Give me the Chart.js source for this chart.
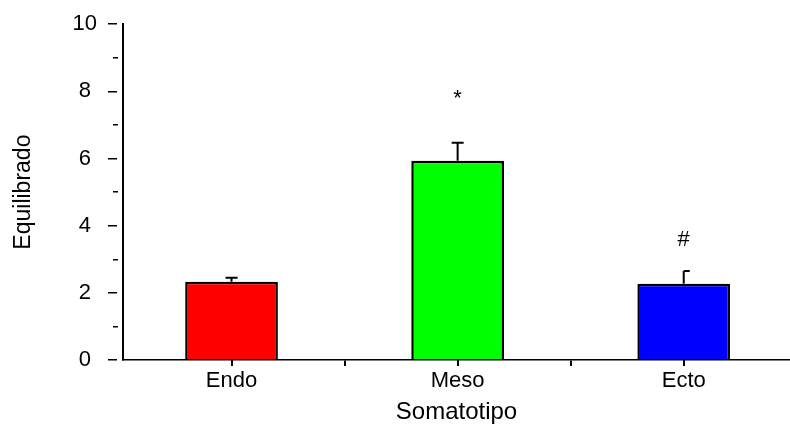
<!DOCTYPE html>
<html>
<head>
<meta charset="utf-8">
<script src="https://cdn.jsdelivr.net/npm/chart.js@4"></script>
<style>
  body { margin: 0; background: #fff; }
  #wrap { width: 790px; height: 429px; position: relative; }
</style>
</head>
<body>
<div id="wrap"><canvas id="myChart"></canvas></div>
<script>
const categories = ['Endo', 'Meso', 'Ecto'];
const means = [2.33, 5.93, 2.27];
const errors = [0.12, 0.54, 0.38];
const marks = ['', '*', '#'];
const markValues = [null, 7.6, 3.4];
const barColors = ['#ff0000', '#00ff00', '#0000ff'];
const capSides = ['both', 'both', 'right'];
const yLabels = [0, 2, 4, 6, 8, 10];

Chart.defaults.font.family = "'Liberation Sans', Arial, sans-serif";
Chart.defaults.font.size = 22;
Chart.defaults.color = '#000';

// error bars, significance marks and the category tick marks under the bars
const extrasPlugin = {
  id: 'extras',
  afterDraw(chart) {
    const { ctx, scales: { x, y } } = chart;
    const bars = chart.getDatasetMeta(0).data;
    ctx.save();
    ctx.strokeStyle = '#000';
    ctx.lineWidth = 2;
    bars.forEach((bar, i) => {
      const top = y.getPixelForValue(means[i] + errors[i]);
      const base = y.getPixelForValue(means[i]);
      const half = 6;
      ctx.beginPath();
      ctx.moveTo(bar.x, base);
      ctx.lineTo(bar.x, top);
      const left = capSides[i] === 'right' ? bar.x : bar.x - half;
      ctx.moveTo(left, top);
      ctx.lineTo(bar.x + half, top);
      // tick mark below the axis at the category centre
      const cx = Math.round(x.getPixelForValue(i));
      ctx.moveTo(cx, x.top);
      ctx.lineTo(cx, x.top + 6);
      ctx.stroke();
    });

    ctx.fillStyle = '#000';
    ctx.font = "22px 'Liberation Sans', Arial, sans-serif";
    ctx.textAlign = 'center';
    ctx.textBaseline = 'alphabetic';
    bars.forEach((bar, i) => {
      if (!marks[i]) return;
      ctx.fillText(marks[i], bar.x, y.getPixelForValue(markValues[i]));
    });
    ctx.restore();
  }
};

new Chart('myChart', {
  type: 'bar',
  data: {
    datasets: [{
      data: categories.map((c, i) => ({ x: i, y: means[i] })),
      backgroundColor: barColors,
      borderColor: '#000',
      borderWidth: 2.5,
      barPercentage: 0.82,
      categoryPercentage: 1
    }]
  },
  plugins: [extrasPlugin],
  options: {
    responsive: true,
    maintainAspectRatio: false,
    animation: false,
    layout: { padding: { top: 20, right: 0, left: 0, bottom: 0 } },
    plugins: {
      legend: { display: false },
      tooltip: { enabled: false }
    },
    scales: {
      x: {
        type: 'linear',
        offset: false,
        min: -0.48,
        max: 2.47,
        afterBuildTicks: s => { s.ticks = [0, 0.5, 1, 1.5, 2].map(v => ({ value: v })); },
        afterFit: s => { s.height = 69; },
        grid: { offset: false, drawOnChartArea: false, tickLength: 6, color: '#000', lineWidth: 2 },
        border: { color: '#000', width: 1.5 },
        ticks: {
          padding: 2,
          maxRotation: 0,
          autoSkip: false,
          callback: v => Number.isInteger(v) ? categories[v] : ''
        },
        title: { display: true, text: 'Somatotipo', font: { size: 24 }, padding: { top: 0, bottom: 2 } }
      },
      y: {
        min: 0,
        max: 10,
        afterFit: s => { s.width = 123; },
        ticks: {
          stepSize: 1,
          padding: 11,
          crossAlign: 'center',
          callback: v => yLabels.includes(v) ? v : ''
        },
        grid: {
          drawOnChartArea: false,
          tickLength: 15,
          color: '#000',
          lineWidth: 1.5,
          tickBorderDash: ctx => (ctx.tick && ctx.tick.value % 2 === 0) ? [9, 20] : [0, 5, 5, 20]
        },
        border: { color: '#000', width: 2 },
        title: { display: true, text: 'Equilibrado', font: { size: 23 }, padding: { top: 10, bottom: 0 } }
      }
    }
  }
});
</script>
</body>
</html>
